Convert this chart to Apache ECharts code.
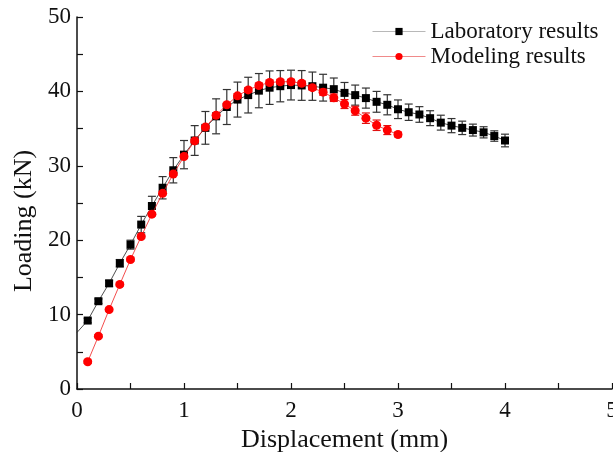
<!DOCTYPE html>
<html>
<head>
<meta charset="utf-8">
<script src="https://cdn.jsdelivr.net/npm/echarts@6/dist/echarts.min.js"></script>
<style>html,body{margin:0;padding:0;background:#fff}#c{width:613px;height:452px}</style>
</head>
<body>
<div id="c"></div>
<script>
var labX = [0.1,0.2,0.3,0.4,0.5,0.6,0.7,0.8,0.9,1.0,1.1,1.2,1.3,1.4,1.5,1.6,1.7,1.8,1.9,2.0,2.1,2.2,2.3,2.4,2.5,2.6,2.7,2.8,2.9,3.0,3.1,3.2,3.3,3.4,3.5,3.6,3.7,3.8,3.9,4.0];
var labY = [9.2,11.8,14.2,16.9,19.4,22.1,24.6,27.05,29.4,31.5,33.4,35.1,36.65,37.9,38.9,39.5,40.1,40.5,40.7,40.85,40.8,40.7,40.5,40.3,39.8,39.5,39.1,38.6,38.2,37.6,37.2,36.9,36.4,35.8,35.4,35.1,34.8,34.5,34.0,33.4];
var labErr = [0.3,0.3,0.4,0.5,0.6,1.1,1.3,1.5,1.7,1.9,2.0,2.2,2.35,2.35,2.35,2.4,2.3,2.25,2.1,2.0,2.0,1.9,1.8,1.5,1.4,1.35,1.35,1.4,1.35,1.25,1.1,1.05,1.0,1.0,0.95,0.9,0.8,0.75,0.7,0.85];
var labStart = [0, 7.6];
var modX = [0.1,0.2,0.3,0.4,0.5,0.6,0.7,0.8,0.9,1.0,1.1,1.2,1.3,1.4,1.5,1.6,1.7,1.8,1.9,2.0,2.1,2.2,2.3,2.4,2.5,2.6,2.7,2.8,2.9,3.0];
var modY = [3.66,7.1,10.67,14.06,17.4,20.5,23.5,26.3,28.9,31.25,33.35,35.2,36.8,38.2,39.4,40.2,40.8,41.2,41.3,41.3,41.1,40.5,39.9,39.15,38.3,37.4,36.4,35.45,34.8,34.2];
var modErr = [0.2,0.2,0.2,0.2,0.2,0.2,0.2,0.2,0.2,0.2,0.2,0.2,0.2,0.2,0.3,0.3,0.3,0.3,0.3,0.3,0.3,0.3,0.4,0.5,0.6,0.6,0.7,0.7,0.6,0.3];

var FONT = '"Liberation Serif","Times New Roman",serif';

function errData(xs, ys, es) {
  return xs.map(function (x, i) { return [x, ys[i] - es[i], ys[i] + es[i]]; });
}
function errRender(color) {
  return function (params, api) {
    var x = api.value(0);
    var lo = api.coord([x, api.value(1)]);
    var hi = api.coord([x, api.value(2)]);
    var w = 4;
    var st = { stroke: color, lineWidth: 1.2 };
    return {
      type: 'group',
      children: [
        { type: 'line', shape: { x1: lo[0], y1: lo[1], x2: hi[0], y2: hi[1] }, style: st },
        { type: 'line', shape: { x1: lo[0] - w, y1: lo[1], x2: lo[0] + w, y2: lo[1] }, style: st },
        { type: 'line', shape: { x1: hi[0] - w, y1: hi[1], x2: hi[0] + w, y2: hi[1] }, style: st }
      ]
    };
  };
}

var labData = [{ value: labStart, symbol: 'none' }].concat(labX.map(function (x, i) { return [x, labY[i]]; }));
var modData = modX.map(function (x, i) { return [x, modY[i]]; });

var chart = echarts.init(document.getElementById('c'), null, { renderer: 'canvas' });
chart.setOption({
  animation: false,
  backgroundColor: '#fff',
  grid: { left: 77, right: 1, top: 17, bottom: 63, containLabel: false, outerBoundsMode: 'none' },
  legend: {
    data: [
      { name: 'Laboratory results', lineStyle: { color: '#b8b8b8', width: 1 } },
      { name: 'Modeling results', lineStyle: { color: '#f08a8a', width: 1 } }
    ],
    orient: 'vertical',
    left: 367,
    top: 15,
    itemWidth: 53,
    itemHeight: 9,
    itemGap: 2,
    textStyle: { fontFamily: FONT, fontSize: 23, color: '#111' }
  },
  xAxis: {
    type: 'value', min: 0, max: 5, interval: 1,
    name: 'Displacement (mm)', nameLocation: 'middle', nameGap: 37,
    nameTextStyle: { fontFamily: FONT, fontSize: 26, color: '#111' },
    axisLine: { show: true, lineStyle: { color: '#111', width: 1.5 } },
    axisTick: { show: true, inside: true, length: 6, lineStyle: { color: '#111', width: 1.2 } },
    minorTick: { show: true, splitNumber: 2, length: 6, lineStyle: { color: '#111', width: 1.2 } },
    axisLabel: { fontFamily: FONT, fontSize: 23, color: '#111', margin: 10 },
    splitLine: { show: false }
  },
  yAxis: {
    type: 'value', min: 0, max: 50, interval: 10,
    name: 'Loading (kN)', nameLocation: 'middle', nameGap: 40,
    nameTextStyle: { fontFamily: FONT, fontSize: 26, color: '#111', padding: [0, 0, 0, -36] },
    axisLine: { show: true, lineStyle: { color: '#111', width: 1.5 } },
    axisTick: { show: true, inside: true, length: 6, lineStyle: { color: '#111', width: 1.2 } },
    minorTick: { show: true, splitNumber: 2, length: 6, lineStyle: { color: '#111', width: 1.2 } },
    axisLabel: { fontFamily: FONT, fontSize: 23, color: '#111', margin: 6 },
    splitLine: { show: false }
  },
  series: [
    {
      name: 'labErr', type: 'custom', renderItem: errRender('#333'),
      data: errData(labX, labY, labErr), encode: { x: 0, y: [1, 2] }, z: 2, silent: true
    },
    {
      name: 'Laboratory results', type: 'line', data: labData,
      symbol: 'rect', symbolSize: 8,
      itemStyle: { color: '#000' },
      lineStyle: { color: '#222', width: 0.8 },
      z: 3
    },
    {
      name: 'modErr', type: 'custom', renderItem: errRender('#e01010'),
      data: errData(modX, modY, modErr), encode: { x: 0, y: [1, 2] }, z: 4, silent: true
    },
    {
      name: 'Modeling results', type: 'line', data: modData,
      symbol: 'circle', symbolSize: 9,
      itemStyle: { color: '#ff0000' },
      lineStyle: { color: '#f02020', width: 0.8 },
      z: 5
    }
  ]
});
</script>
</body>
</html>
